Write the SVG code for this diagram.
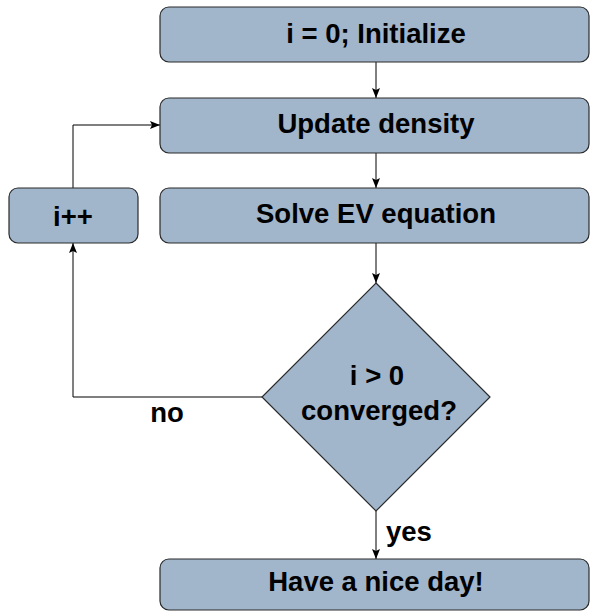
<svg xmlns="http://www.w3.org/2000/svg" width="591" height="612" viewBox="0 0 591 612">
<style>
.n{fill:#a1b5cb;stroke:#2a2a2a;stroke-width:1.2}
.t{font-family:"Liberation Sans",Arial,sans-serif;font-weight:bold;font-size:27.5px;fill:#000;text-anchor:middle}
.c{fill:none;stroke:#000;stroke-width:1}
</style>
<defs>
<marker id="a" viewBox="0 0 10 10" refX="10" refY="5" markerWidth="10" markerHeight="10" markerUnits="userSpaceOnUse" orient="auto">
<path d="M0,1 L10,5 L0,9 L2,5 Z" fill="#000"/>
</marker>
</defs>
<g id="connectors">
<path class="c" d="M376,62 V98" marker-end="url(#a)"/>
<path class="c" d="M376,153 V188" marker-end="url(#a)"/>
<path class="c" d="M376,243 V283" marker-end="url(#a)"/>
<path class="c" d="M376,511 V559" marker-end="url(#a)"/>
<path class="c" d="M262,397 H73 V243" marker-end="url(#a)"/>
<path class="c" d="M73,188 V125 H160" marker-end="url(#a)"/>
<text class="t" x="167" y="422">no</text>
<text class="t" x="386" y="541" style="text-anchor:start">yes</text>
</g>
<g id="init">
<rect class="n" x="160" y="7" width="429" height="55" rx="9"/>
<text class="t" x="376" y="43">i = 0; Initialize</text>
</g>
<g id="update">
<rect class="n" x="160" y="98" width="429" height="55" rx="9"/>
<text class="t" x="376" y="133">Update density</text>
</g>
<g id="solve">
<rect class="n" x="160" y="188" width="429" height="55" rx="9"/>
<text class="t" x="376" y="223">Solve EV equation</text>
</g>
<g id="inc">
<rect class="n" x="9" y="188" width="129" height="55" rx="9"/>
<text class="t" x="73" y="226">i++</text>
</g>
<g id="decision">
<polygon class="n" points="376,283 490,397 376,511 262,397"/>
<text class="t" x="377" y="385">i &gt; 0</text>
<text class="t" x="379" y="420">converged?</text>
</g>
<g id="done">
<rect class="n" x="160" y="559" width="429" height="51" rx="9"/>
<text class="t" x="376" y="591">Have a nice day!</text>
</g>
</svg>
